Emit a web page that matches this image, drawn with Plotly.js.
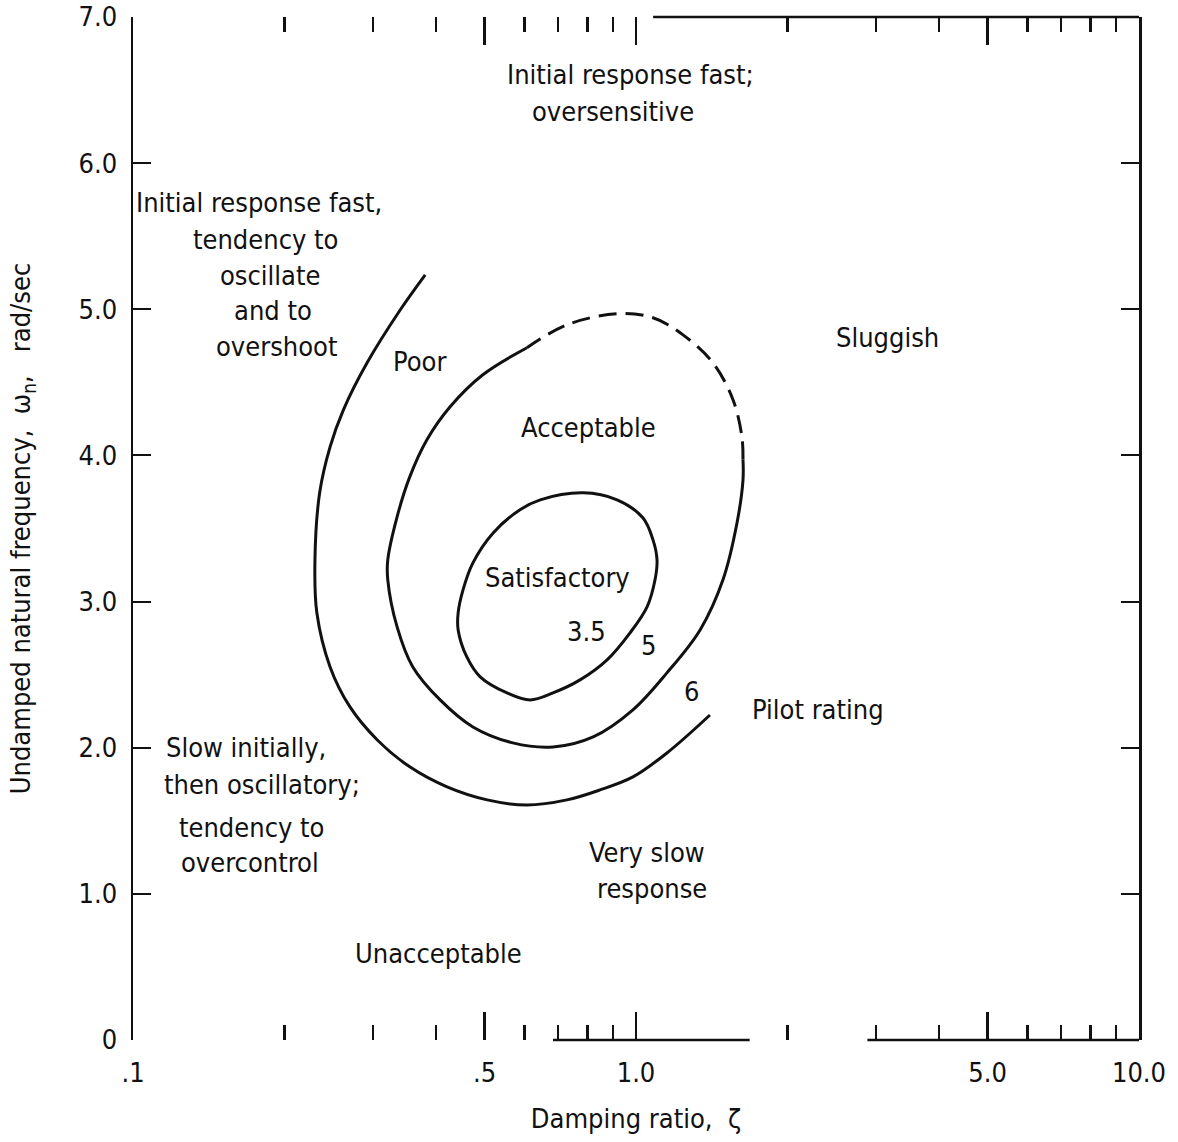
<!DOCTYPE html>
<html>
<head>
<meta charset="utf-8">
<script src="https://cdn.plot.ly/plotly-3.0.1.min.js"></script>
<style>
  html, body { margin: 0; padding: 0; background: #fff; }
  #chart { width: 1178px; height: 1142px; }
</style>
</head>
<body>
<div id="chart"></div>
<script>
// Pilot rating 6 boundary (open curve)
const rating6Zeta  = [0.381, 0.340, 0.292, 0.262, 0.2465, 0.235, 0.230, 0.232, 0.2465, 0.270, 0.306, 0.355, 0.421, 0.506, 0.607, 0.729, 0.848, 0.986, 1.152, 1.403];
const rating6Omega = [5.236, 4.997, 4.634, 4.312, 4.059, 3.744, 3.285, 2.923, 2.553, 2.279, 2.053, 1.869, 1.732, 1.643, 1.608, 1.643, 1.711, 1.800, 1.964, 2.224];

// Pilot rating 5 boundary, solid part
const rating5Zeta  = [0.607, 0.496, 0.427, 0.384, 0.355, 0.335, 0.321, 0.321, 0.335, 0.360, 0.408, 0.474, 0.569, 0.684, 0.822, 0.986, 1.152, 1.341, 1.489, 1.588, 1.632, 1.632];
const rating5Omega = [4.737, 4.552, 4.333, 4.107, 3.853, 3.580, 3.285, 3.149, 2.827, 2.553, 2.327, 2.142, 2.033, 2.005, 2.074, 2.259, 2.512, 2.806, 3.149, 3.539, 3.833, 3.970];

// Pilot rating 5 boundary, extrapolated part (dashed)
const rating5DashZeta  = [1.632, 1.624, 1.559, 1.422, 1.240, 1.081, 0.917, 0.729, 0.607];
const rating5DashOmega = [3.970, 4.127, 4.381, 4.634, 4.825, 4.942, 4.969, 4.894, 4.737];

// Pilot rating 3.5 boundary (closed curve)
const rating35Zeta  = [0.645, 0.785, 0.917, 1.032, 1.081, 1.101, 1.091, 1.052, 0.973, 0.876, 0.774, 0.684, 0.616, 0.554, 0.490, 0.461, 0.443, 0.443, 0.453, 0.474, 0.520, 0.588, 0.645];
const rating35Omega = [3.696, 3.744, 3.696, 3.573, 3.422, 3.285, 3.149, 2.964, 2.786, 2.601, 2.464, 2.375, 2.327, 2.375, 2.485, 2.621, 2.806, 2.923, 3.080, 3.265, 3.470, 3.628, 3.696];

// Axis ticks
const xTickVals  = [0.1, 0.5, 1, 5, 10];
const xTickText  = ['.1', '.5', '1.0', '5.0', '10.0'];
const xMinorVals = [0.2, 0.3, 0.4, 0.6, 0.7, 0.8, 0.9, 2, 3, 4, 6, 7, 8, 9];
const yTickVals  = [0, 1, 2, 3, 4, 5, 6, 7];
const yTickText  = ['0', '1.0', '2.0', '3.0', '4.0', '5.0', '6.0', '7.0'];
const yMinorVals = [1, 2, 3, 4, 5, 6];

// Region descriptions and curve labels
const regionLabels = [
  { text: 'Initial response fast;', zeta: 0.973, omega: 6.605 },
  { text: 'oversensitive',          zeta: 0.900, omega: 6.352 },
  { text: 'Initial response fast,', zeta: 0.178, omega: 5.729 },
  { text: 'tendency to',            zeta: 0.183, omega: 5.476 },
  { text: 'oscillate',              zeta: 0.187, omega: 5.229 },
  { text: 'and to',                 zeta: 0.190, omega: 4.990 },
  { text: 'overshoot',              zeta: 0.1925, omega: 4.743 },
  { text: 'Poor',                   zeta: 0.372, omega: 4.641 },
  { text: 'Acceptable',             zeta: 0.803, omega: 4.189 },
  { text: 'Sluggish',               zeta: 3.155, omega: 4.805 },
  { text: 'Satisfactory',           zeta: 0.697, omega: 3.162 },
  { text: '3.5',                    zeta: 0.796, omega: 2.793 },
  { text: '5',                      zeta: 1.057, omega: 2.697 },
  { text: '6',                      zeta: 1.292, omega: 2.382 },
  { text: 'Pilot rating',           zeta: 2.300, omega: 2.259 },
  { text: 'Slow initially,',        zeta: 0.168, omega: 1.999 },
  { text: 'then oscillatory;',      zeta: 0.1805, omega: 1.745 },
  { text: 'tendency to',            zeta: 0.1724, omega: 1.451 },
  { text: 'overcontrol',            zeta: 0.171, omega: 1.218 },
  { text: 'Very slow',              zeta: 1.052, omega: 1.280 },
  { text: 'response',               zeta: 1.076, omega: 1.034 },
  { text: 'Unacceptable',           zeta: 0.404, omega: 0.595 }
];

const FONT = "'DejaVu Sans Condensed', 'Liberation Sans Narrow', 'DejaVu Sans', sans-serif";
const INK = '#111';
const TEXT_SIZE = 27;

function curve(x, y, dash) {
  return {
    type: 'scatter', mode: 'lines', x: x, y: y,
    line: { color: INK, width: 3, shape: 'spline', smoothing: 1, dash: dash || 'solid' },
    hoverinfo: 'skip'
  };
}

const traces = [
  curve(rating6Zeta, rating6Omega),
  curve(rating5Zeta, rating5Omega),
  curve(rating5DashZeta, rating5DashOmega, '18px,9px'),
  curve(rating35Zeta, rating35Omega)
];

// Frame segments along top and bottom edges
function edge(x0, x1, y) {
  return { type: 'line', xref: 'paper', yref: 'paper', x0: x0, x1: x1, y0: y, y1: y,
           line: { color: INK, width: 2.5 } };
}

const layout = {
  width: 1178, height: 1142,
  margin: { l: 133, r: 39, t: 17, b: 102 },
  paper_bgcolor: '#fff', plot_bgcolor: '#fff',
  showlegend: false,
  font: { family: FONT, size: TEXT_SIZE, color: INK },
  xaxis: {
    type: 'log', range: [-1, 1],
    tickmode: 'array', tickvals: xTickVals, ticktext: xTickText,
    ticks: 'inside', ticklen: 28, tickwidth: 2.5, tickcolor: INK,
    mirror: 'ticks', showline: false, showgrid: false, zeroline: false,
    ticklabelstandoff: 14,
    tickfont: { family: FONT, size: TEXT_SIZE, color: INK },
    minor: { tickmode: 'array', tickvals: xMinorVals, ticks: 'inside', ticklen: 15, tickwidth: 2.5, tickcolor: INK, showgrid: false },
    title: { text: 'Damping ratio,  ζ', standoff: 22, font: { family: FONT, size: TEXT_SIZE, color: INK } }
  },
  yaxis: {
    range: [0, 7],
    tickmode: 'array', tickvals: yTickVals, ticktext: yTickText,
    ticks: '', showline: true, linewidth: 2.5, linecolor: INK, mirror: 'ticks',
    showgrid: false, zeroline: false,
    ticklabelstandoff: 8,
    tickfont: { family: FONT, size: TEXT_SIZE, color: INK },
    minor: { tickmode: 'array', tickvals: yMinorVals, ticks: 'inside', ticklen: 18, tickwidth: 2, tickcolor: INK, showgrid: false },
    title: { text: 'Undamped natural frequency,  ω<sub>n</sub>,   rad/sec', standoff: 40, font: { family: FONT, size: TEXT_SIZE, color: INK } }
  },
  shapes: [
    edge(0.517, 1, 1),
    edge(0.4175, 0.613, 0),
    edge(0.730, 1, 0)
  ],
  annotations: regionLabels.map(function (d) {
    return {
      text: d.text, x: Math.log10(d.zeta), y: d.omega, xref: 'x', yref: 'y',
      showarrow: false, xanchor: 'center', yanchor: 'middle',
      font: { family: FONT, size: TEXT_SIZE, color: INK }
    };
  })
};

Plotly.newPlot('chart', traces, layout, { displayModeBar: false, staticPlot: true });
</script>
</body>
</html>
